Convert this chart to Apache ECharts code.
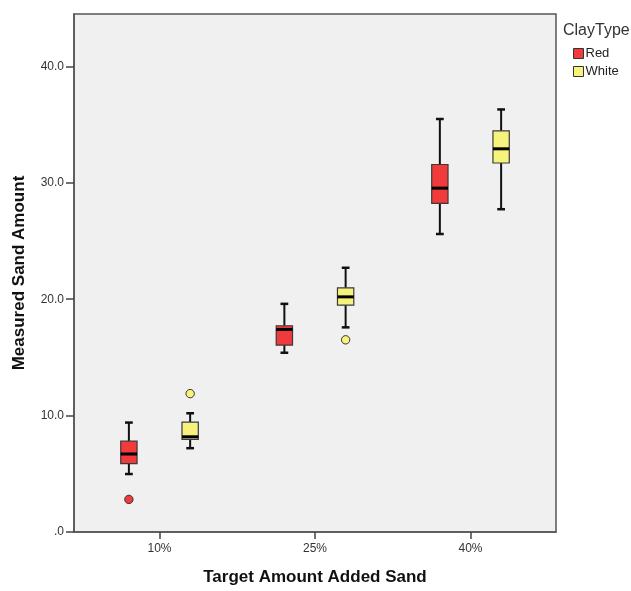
<!DOCTYPE html>
<html>
<head>
    <meta charset="utf-8">
    <title>Measured Sand Amount</title>
    <script src="https://cdn.jsdelivr.net/npm/echarts@6/dist/echarts.min.js"></script>
    <style>
        html, body { margin: 0; padding: 0; background: #fff; }
        #chart1 { width: 631px; height: 591px; }
    </style>
</head>
<body>
<div id="chart1"></div>
<script type="text/javascript">
    // x categories (target amount) and y tick values
    var categories = ['10%', '25%', '40%'];
    var yTicks = [0, 10, 20, 30, 40];

    // [category index, lower whisker, Q1, median, Q3, upper whisker]
    var redBoxes = [
        [0, 4.98, 5.88, 6.70, 7.80, 9.40],
        [1, 15.40, 16.06, 17.40, 17.72, 19.60],
        [2, 25.60, 28.23, 29.54, 31.57, 35.48]
    ];
    var whiteBoxes = [
        [0, 7.20, 7.95, 8.18, 9.44, 10.20],
        [1, 17.58, 19.49, 20.20, 20.98, 22.70],
        [2, 27.73, 31.70, 32.92, 34.46, 36.30]
    ];
    // [category index, value]
    var redOutliers = [[0, 2.80]];
    var whiteOutliers = [[0, 11.89], [1, 16.51]];

    var redColor = '#f03a3c';
    var whiteColor = '#f7f27c';
    var groupOffset = 0.197;   // share of a category step
    var boxWidth = 0.105;
    var capWidth = 0.05;

    function boxRender(offset, color) {
        return function (params, api) {
            var x = api.value(0) + offset;
            var lo = api.coord([x, api.value(1)]);
            var q1 = api.coord([x, api.value(2)]);
            var med = api.coord([x, api.value(3)]);
            var q3 = api.coord([x, api.value(4)]);
            var hi = api.coord([x, api.value(5)]);
            var hw = api.size([boxWidth, 0])[0] / 2;
            var cw = api.size([capWidth, 0])[0] / 2;
            var whisker = { stroke: '#111', lineWidth: 2 };
            return {
                type: 'group',
                children: [
                    { type: 'line', shape: { x1: hi[0], y1: hi[1], x2: q3[0], y2: q3[1] }, style: whisker },
                    { type: 'line', shape: { x1: q1[0], y1: q1[1], x2: lo[0], y2: lo[1] }, style: whisker },
                    { type: 'line', shape: { x1: hi[0] - cw, y1: hi[1], x2: hi[0] + cw, y2: hi[1] }, style: { stroke: '#111', lineWidth: 2.5 } },
                    { type: 'line', shape: { x1: lo[0] - cw, y1: lo[1], x2: lo[0] + cw, y2: lo[1] }, style: { stroke: '#111', lineWidth: 2.5 } },
                    { type: 'rect', shape: { x: q3[0] - hw, y: q3[1], width: hw * 2, height: q1[1] - q3[1] },
                      style: { fill: color, stroke: '#3a3a3a', lineWidth: 1.2 } },
                    { type: 'line', shape: { x1: med[0] - hw, y1: med[1], x2: med[0] + hw, y2: med[1] }, style: { stroke: '#000', lineWidth: 3 } }
                ]
            };
        };
    }

    function outlierRender(offset, color) {
        return function (params, api) {
            var p = api.coord([api.value(0) + offset, api.value(1)]);
            return {
                type: 'circle',
                shape: { cx: p[0], cy: p[1], r: 4.2 },
                style: { fill: color, stroke: '#333', lineWidth: 1 }
            };
        };
    }

    var chart = echarts.init(document.getElementById('chart1'));
    chart.setOption({
        animation: false,
        textStyle: { fontFamily: 'Liberation Sans, Arial, sans-serif' },
        title: {
            text: 'ClayType',
            left: 563, top: 23, padding: 0,
            textStyle: { fontSize: 16, fontWeight: 'normal', color: '#333' }
        },
        legend: {
            data: ['Red', 'White'],
            orient: 'vertical',
            left: 573, top: 47, padding: 0,
            itemWidth: 10, itemHeight: 10, itemGap: 5,
            icon: 'rect',
            itemStyle: { borderColor: '#333', borderWidth: 1 },
            textStyle: { fontSize: 13, color: '#222', padding: [0, 0, 0, -3] }
        },
        grid: {
            left: 74, right: 75, top: 14, bottom: 53,
            show: true,
            backgroundColor: '#f0f0f0',
            borderColor: '#555',
            borderWidth: 1.5
        },
        xAxis: {
            type: 'value',
            min: -0.55, max: 2.55,
            name: 'Target Amount Added Sand',
            nameLocation: 'middle',
            nameGap: 37,
            nameTextStyle: { fontSize: 17, fontWeight: 'bold', color: '#111' },
            axisLine: { show: true, onZero: false, lineStyle: { color: '#555', width: 1.5 } },
            axisTick: { show: true, length: 7, customValues: [0, 1, 2], lineStyle: { color: '#444', width: 1.5 } },
            axisLabel: {
                customValues: [0, 1, 2],
                margin: 11,
                fontSize: 12, color: '#333',
                formatter: function (v) { return categories[Math.round(v)]; }
            },
            splitLine: { show: false }
        },
        yAxis: {
            type: 'value',
            min: 0, max: 44.5,
            name: 'Measured Sand Amount',
            nameLocation: 'middle',
            nameGap: 46,
            nameTextStyle: { fontSize: 17, fontWeight: 'bold', color: '#111' },
            axisLine: { show: true, onZero: false, lineStyle: { color: '#555', width: 1.5 } },
            axisTick: { show: true, length: 8, customValues: yTicks, lineStyle: { color: '#444', width: 1.5 } },
            axisLabel: {
                customValues: yTicks,
                margin: 10,
                fontSize: 12, color: '#333',
                formatter: function (v) { return v === 0 ? '.0' : v.toFixed(1); }
            },
            splitLine: { show: false }
        },
        series: [
            {
                name: 'Red', type: 'custom',
                itemStyle: { color: redColor, borderColor: '#333' },
                renderItem: boxRender(-groupOffset, redColor),
                data: redBoxes
            },
            {
                name: 'White', type: 'custom',
                itemStyle: { color: whiteColor, borderColor: '#333' },
                renderItem: boxRender(groupOffset, whiteColor),
                data: whiteBoxes
            },
            {
                name: 'Red', type: 'custom',
                itemStyle: { color: redColor },
                renderItem: outlierRender(-groupOffset, redColor),
                data: redOutliers
            },
            {
                name: 'White', type: 'custom',
                itemStyle: { color: whiteColor },
                renderItem: outlierRender(groupOffset, whiteColor),
                data: whiteOutliers
            }
        ]
    });
</script>
</body>
</html>
